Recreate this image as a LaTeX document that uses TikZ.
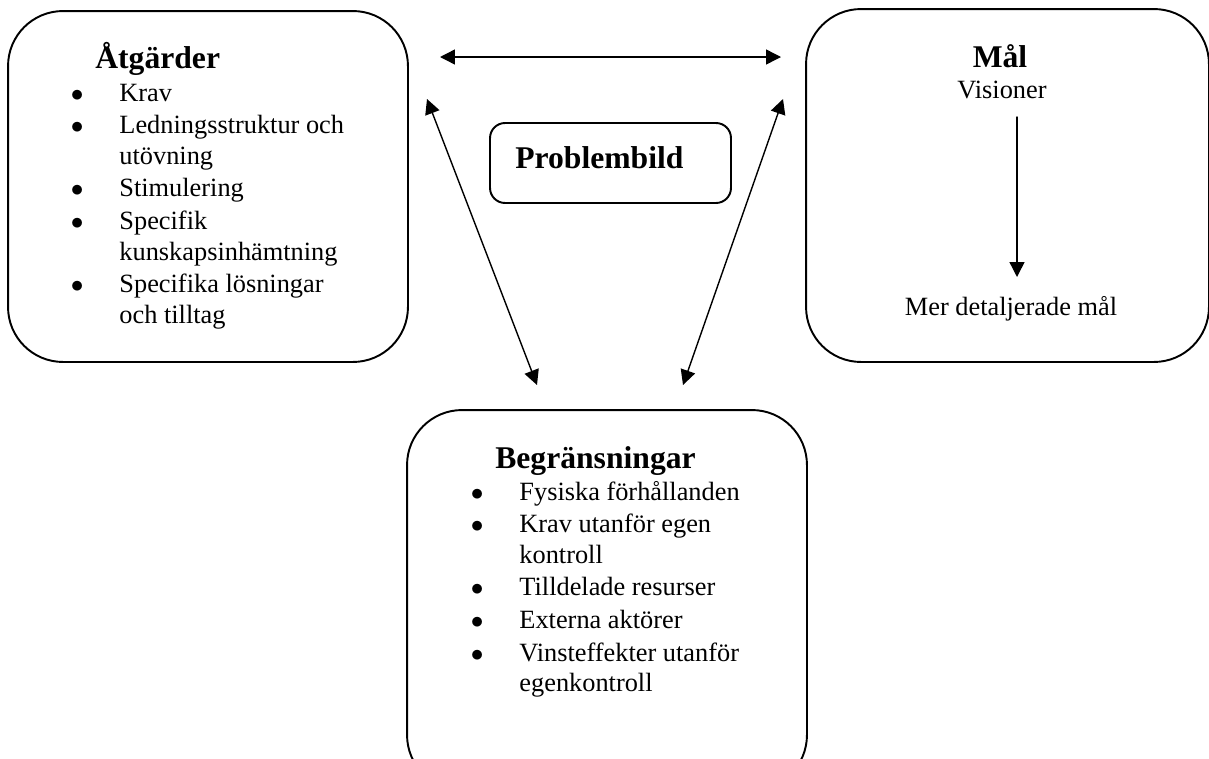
\documentclass[tikz,border=0pt]{standalone}
\usepackage{fontspec}
\setmainfont{Liberation Serif}
\usetikzlibrary{arrows.meta}
\newcommand{\bul}{\makebox[27.7pt][l]{$\bullet$}}

\begin{document}
\begin{tikzpicture}[x=0.02cm, y=-0.02cm, line cap=round, line join=round,
  box/.style={draw, line width=1.1pt, rounded corners=1.1cm, inner sep=0pt},
  head/.style={inner sep=0pt, font=\fontsize{18}{20}\selectfont\bfseries},
  txt/.style={inner sep=0pt, font=\fontsize{15}{17.4}\selectfont},
  link/.style={line width=0.8pt, {Triangle[length=8.5pt,width=8.5pt]}-{Triangle[length=8.5pt,width=8.5pt]}},
  down/.style={line width=0.8pt, -{Triangle[length=8.5pt,width=8.5pt]}}]
\clip (0,0) rectangle (1209,758);

\node[box, minimum width=8cm, minimum height=7.02cm] (atg) at (208,186.5) {};
\node[box, minimum width=8.06cm, minimum height=7.06cm] (mal) at (1007.5,185.5) {};
\node[box, minimum width=8cm, minimum height=7.6cm] (beg) at (607,600) {};
\node[box, rounded corners=0.3cm, minimum width=4.82cm, minimum height=1.6cm] (prob) at (610.5,163) {};

\node[head, anchor=base west] (atgT) at (95,68) {Åtgärder};
\node[txt, anchor=base west] (atgL) at (70.4,101) {\begin{tabular}[t]{@{}l@{}l@{}}
\bul & Krav\\[1.2pt]
\bul & Ledningsstruktur och\\
     & utövning\\[1.2pt]
\bul & Stimulering\\[1.2pt]
\bul & Specifik\\
     & kunskapsinhämtning\\[1.2pt]
\bul & Specifika lösningar\\
     & och tilltag
\end{tabular}};

\node[head, anchor=base] (malT) at (1000,67) {Mål};
\node[txt, anchor=base] (vis) at (1002,98) {Visioner};
\node[txt, anchor=base] (mer) at (1011,315) {Mer detaljerade mål};

\node[head, anchor=base west] (probT) at (515,168) {Problembild};

\node[head, anchor=base west] (begT) at (495,468) {Begränsningar};
\node[txt, anchor=base west] (begL) at (470.4,500) {\begin{tabular}[t]{@{}l@{}l@{}}
\bul & Fysiska förhållanden\\[1.2pt]
\bul & Krav utanför egen\\
     & kontroll\\[1.2pt]
\bul & Tilldelade resurser\\[1.2pt]
\bul & Externa aktörer\\[1.2pt]
\bul & Vinsteffekter utanför\\
     & egenkontroll
\end{tabular}};

\coordinate (H1) at (440,57);
\coordinate (H2) at (781,57);
\coordinate (L1) at (427,99);
\coordinate (L2) at (537,385);
\coordinate (R1) at (783,99);
\coordinate (R2) at (683,385);
\coordinate (V1) at (1017,117);
\coordinate (V2) at (1017,277);

\draw[link] (H1)--(H2);
\draw[link] (L1)--(L2);
\draw[link] (R1)--(R2);
\draw[down] (V1)--(V2);
\end{tikzpicture}
\end{document}
